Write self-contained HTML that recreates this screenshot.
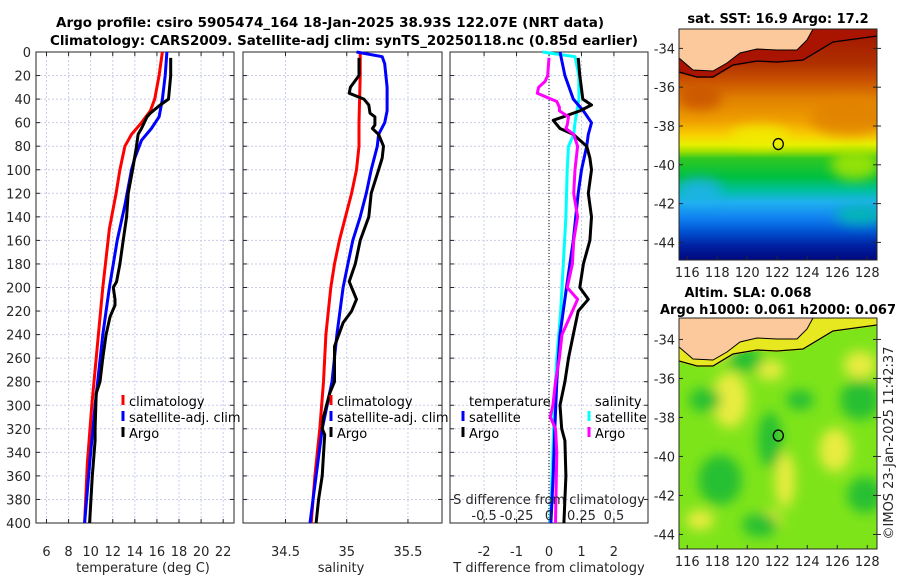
<!DOCTYPE html>
<html><head><meta charset="utf-8"><style>
html,body{margin:0;padding:0;background:#fff;}
svg{display:block;font-family:"DejaVu Sans","Liberation Sans",sans-serif;}
</style></head><body>
<svg id="fig" width="900" height="580" viewBox="0 0 900 580">
<defs>
<linearGradient id="sstGrad" x1="0" y1="0" x2="0" y2="1">
<stop offset="0" stop-color="#a01400"/><stop offset="0.15" stop-color="#b03000"/>
<stop offset="0.22" stop-color="#c85000"/><stop offset="0.30" stop-color="#e08000"/>
<stop offset="0.40" stop-color="#f0a000"/><stop offset="0.46" stop-color="#f8d000"/>
<stop offset="0.50" stop-color="#e8f000"/><stop offset="0.53" stop-color="#a0e000"/>
<stop offset="0.56" stop-color="#30c820"/><stop offset="0.64" stop-color="#00c040"/>
<stop offset="0.70" stop-color="#00c0a0"/><stop offset="0.75" stop-color="#20b0f0"/>
<stop offset="0.82" stop-color="#1080f0"/><stop offset="0.88" stop-color="#0050d0"/>
<stop offset="0.94" stop-color="#0020a0"/><stop offset="1" stop-color="#000880"/>
</linearGradient>
<filter id="blur" x="-20%" y="-20%" width="140%" height="140%"><feGaussianBlur stdDeviation="6"/></filter>
<clipPath id="clipTop"><rect x="679" y="29" width="198" height="231"/></clipPath>
<clipPath id="clipBot"><rect x="679" y="318" width="198" height="231"/></clipPath>
</defs>
<g id="root"></g>
</svg>
<script>
// ---------- data ----------
const depthTicks = [0,20,40,60,80,100,120,140,160,180,200,220,240,260,280,300,320,340,360,380,400];
const tempTicks = [6,8,10,12,14,16,18,20,22];
const salTicks = [34.5,35,35.5];
const tdiffTicks = [-2,-1,0,1,2];
const sdiffTicks = [-0.5,-0.25,0,0.25,0.5];
const sdiffTickLabels = ["-0.5","-0.25","0","0.25","0.5"];

const climTdepth = [0,20,40,50,60,70,80,100,120,150,200,250,300,350,400];
const climT = [16.5,16.2,15.8,15.4,14.6,13.7,13.1,12.65,12.3,11.7,11.1,10.6,10.1,9.7,9.45];
const satTdepth = [0,20,40,55,65,75,90,100,130,160,200,240,300,350,400];
const satT = [16.9,16.75,16.5,16.2,15.5,14.6,14.0,13.7,13.1,12.4,11.7,11.1,10.4,9.9,9.45];
const argoTdepth = [5,20,40,45,52,55,65,70,80,100,120,140,160,180,195,200,210,215,225,240,260,280,290,320,330,360,400];
const argoT = [17.25,17.25,17.05,16.3,15.4,15.1,14.6,14.3,14.15,13.8,13.4,13.25,12.95,12.65,12.35,12.05,12.2,12.2,11.75,11.4,11.1,10.85,10.5,10.4,10.4,10.15,9.9];

const climSdepth = [0,20,60,80,100,120,140,160,180,200,240,280,320,360,400];
const climS = [35.11,35.11,35.10,35.10,35.08,35.04,34.99,34.94,34.90,34.87,34.83,34.81,34.78,34.74,34.71];
const satSdepth = [0,4,10,30,50,60,70,80,100,120,140,160,180,200,240,280,300,320,360,400];
const satS = [35.08,35.29,35.31,35.33,35.33,35.31,35.26,35.25,35.20,35.16,35.11,35.05,35.01,34.97,34.92,34.88,34.84,34.80,34.75,34.70];
const argoSdepth = [5,20,30,35,40,45,52,55,62,65,70,80,90,100,120,130,140,160,180,195,200,210,220,230,250,280,290,310,320,325,360,380,400];
const argoS = [35.10,35.10,35.03,35.02,35.14,35.18,35.19,35.23,35.23,35.21,35.26,35.30,35.29,35.26,35.20,35.19,35.18,35.11,35.07,35.02,35.04,35.08,35.04,34.97,34.90,34.90,34.86,34.81,34.80,34.82,34.80,34.77,34.75];

const dTsatDepth = [0,20,40,50,60,70,80,100,120,160,200,240,280,320,360,400];
const dTsat = [0.34,0.49,0.75,1.06,1.31,1.21,1.16,1.0,0.9,0.75,0.54,0.34,0.24,0.18,0.13,0.06];
const dTargoDepth = [5,20,40,45,50,55,58,65,70,80,90,100,120,140,160,180,200,210,220,240,260,280,300,320,330,360,400];
const dTargo = [0.9,0.95,1.04,1.31,0.95,0.44,0.13,0.34,0.75,1.16,1.26,1.31,1.21,1.31,1.26,1.06,0.95,1.21,0.9,0.75,0.6,0.49,0.34,0.39,0.49,0.52,0.46];
const dSsatDepth = [0,4,20,40,60,70,80,100,140,180,220,260,300,340,400];
const dSsat = [-0.05,0.20,0.23,0.23,0.20,0.19,0.15,0.14,0.13,0.11,0.09,0.06,0.04,0.03,0.01];
const dSargoDepth = [5,20,25,30,35,42,47,50,55,62,65,70,80,100,120,140,160,180,200,210,220,240,260,280,300,310,320,340,400];
const dSargo = [0,-0.01,-0.03,-0.08,-0.09,0.06,0.08,0.08,0.15,0.14,0.13,0.19,0.22,0.20,0.19,0.22,0.19,0.18,0.14,0.22,0.18,0.10,0.08,0.05,0.03,0.01,0.05,0.06,0.05];

const lonTicks = [116,118,120,122,124,126,128];
const latTicks = [-34,-36,-38,-40,-42,-44];
const floatLon = 122.07;
const floatLat = -38.93;

// ---------- helpers ----------
const NS = "http://www.w3.org/2000/svg";
const root = document.getElementById('root');
function mk(tag, attrs, parent){
  const e = document.createElementNS(NS, tag);
  for (const k in attrs) e.setAttribute(k, attrs[k]);
  (parent||root).appendChild(e);
  return e;
}
function txt(x,y,s,opts,parent){
  const t = mk('text', Object.assign({x:x,y:y,'font-size':13,fill:'#262626'}, opts||{}), parent);
  t.textContent = s;
  return t;
}
const yTop = 52, yBot = 523;
const depthY = d => yTop + d*(yBot-yTop)/400;

const panels = [
  {x0:36,x1:234,lo:5.05,hi:22.98},
  {x0:243,x1:442,lo:34.153,hi:35.778},
  {x0:450,x1:648,lo:-3.05,hi:3.05}
];
function xScale(p){ return v => p.x0 + (v-p.lo)*(p.x1-p.x0)/(p.hi-p.lo); }
const xT = xScale(panels[0]), xS = xScale(panels[1]), xD = xScale(panels[2]);
const xSD = v => xD(v*4);

function panelFrame(p, vticks, vx, name){
  const g = mk('g', {});
  
  
  vticks.forEach(v => mk('line',{x1:vx(v),x2:vx(v),y1:yTop,y2:yBot,stroke:'#c8cce8','stroke-width':1,'stroke-dasharray':'2,2'},g));
  depthTicks.forEach(d => {
    mk('line',{x1:p.x0,x2:p.x1,y1:depthY(d),y2:depthY(d),stroke:'#c8cce8','stroke-width':1,'stroke-dasharray':'2,2'},g);
    mk('line',{x1:p.x0,x2:p.x0+4,y1:depthY(d),y2:depthY(d),stroke:'#262626'},g);
    mk('line',{x1:p.x1-4,x2:p.x1,y1:depthY(d),y2:depthY(d),stroke:'#262626'},g);
  });
  vticks.forEach(v => {
    mk('line',{x1:vx(v),x2:vx(v),y1:yBot,y2:yBot-4,stroke:'#262626'},g);
    mk('line',{x1:vx(v),x2:vx(v),y1:yTop,y2:yTop+4,stroke:'#262626'},g);
  });
  mk('rect',{x:p.x0,y:yTop,width:p.x1-p.x0,height:yBot-yTop,fill:'none',stroke:'#262626','stroke-width':1},g);
  return g;
}
function line(depths, vals, sx, color, name, w){
  const pts = depths.map((d,i)=> sx(vals[i]).toFixed(1)+','+depthY(d).toFixed(1)).join(' ');
  const e = mk('polyline',{points:pts,fill:'none',stroke:color,'stroke-width':w||3,'stroke-linejoin':'round'});
  
  
  return e;
}

const t1 = txt(330,27,'Argo profile: csiro 5905474_164 18-Jan-2025 38.93S 122.07E (NRT data)',{'font-weight':'bold','text-anchor':'middle','font-size':13,fill:'#000',textLength:548,lengthAdjust:'spacingAndGlyphs'});


const t2 = txt(344,45,'Climatology: CARS2009. Satellite-adj clim: synTS_20250118.nc (0.85d earlier)',{'font-weight':'bold','text-anchor':'middle','font-size':13,fill:'#000',textLength:588,lengthAdjust:'spacingAndGlyphs'});



panelFrame(panels[0], tempTicks, xT, 'temperature-panel');
depthTicks.forEach(d => {
  const e = txt(31, depthY(d)+5, String(d), {'text-anchor':'end'});
  
  
});
tempTicks.forEach(v => {
  const e = txt(xT(v), 556, String(v), {'text-anchor':'middle'});
  
  
});
const xl1 = txt(143, 572, 'temperature (deg C)', {'text-anchor':'middle'});


line(climTdepth, climT, xT, '#ff0000', 'climatology-temperature-line');
line(satTdepth, satT, xT, '#0000ff', 'satellite-temperature-line');
line(argoTdepth, argoT, xT, '#000000', 'argo-temperature-line');

function legend(x, y, items, name){
  const g = mk('g',{});
  
  
  items.forEach((it,i)=>{
    if (it.c) mk('line',{x1:x,x2:x,y1:y+i*16-11,y2:y+i*16-1,stroke:it.c,'stroke-width':3},g);
    txt(x+6, y+i*16, it.t, {fill:'#000'}, g);
  });
}
legend(123, 406, [{c:'#ff0000',t:'climatology'},{c:'#0000ff',t:'satellite-adj. clim'},{c:'#000',t:'Argo'}], 'temperature-legend');

panelFrame(panels[1], salTicks, xS, 'salinity-panel');
salTicks.forEach(v => {
  const e = txt(xS(v), 556, String(v), {'text-anchor':'middle'});
  
  
});
const xl2 = txt(341, 572, 'salinity', {'text-anchor':'middle'});


line(climSdepth, climS, xS, '#ff0000', 'climatology-salinity-line');
line(satSdepth, satS, xS, '#0000ff', 'satellite-salinity-line');
line(argoSdepth, argoS, xS, '#000000', 'argo-salinity-line');
legend(331, 406, [{c:'#ff0000',t:'climatology'},{c:'#0000ff',t:'satellite-adj. clim'},{c:'#000',t:'Argo'}], 'salinity-legend');

panelFrame(panels[2], tdiffTicks, xD, 'difference-panel');
const zl = mk('line',{x1:xD(0),x2:xD(0),y1:yTop,y2:yBot,stroke:'#000','stroke-width':1,'stroke-dasharray':'1,2'});


tdiffTicks.forEach(v => {
  const e = txt(xD(v), 556, String(v), {'text-anchor':'middle'});
  
  
});
const xl3 = txt(549, 572, 'T difference from climatology', {'text-anchor':'middle'});


line(dSsatDepth, dSsat, xSD, '#00ffff', 'salinity-satellite-difference-line');
line(dTsatDepth, dTsat, xD, '#0000ff', 'temperature-satellite-difference-line');
line(dTargoDepth, dTargo, xD, '#000000', 'temperature-argo-difference-line');
line(dSargoDepth, dSargo, xSD, '#ff00ff', 'salinity-argo-difference-line');
const sl = txt(549, 504, 'S difference from climatology', {'text-anchor':'middle'});


sdiffTicks.forEach((v,i) => {
  const e = txt(xSD(v), 520, sdiffTickLabels[i], {'text-anchor':'middle'});
  
  
});
legend(463, 406, [{c:null,t:'temperature'},{c:'#0000ff',t:'satellite'},{c:'#000',t:'Argo'}], 'temperature-difference-legend');
legend(589, 406, [{c:null,t:'salinity'},{c:'#00ffff',t:'satellite'},{c:'#ff00ff',t:'Argo'}], 'salinity-difference-legend');

// ---------- maps ----------
const mapX0 = 679, mapX1 = 877;
const lonX = lon => mapX0 + (lon-115.45)*15;
function drawMap(top, bottom, latTop, latPerPx, kind){
  const latY = lat => top + (latTop-lat)*latPerPx;
  const g = mk('g',{});
  
  
  const off = top - 29;
  const cg = mk('g',{'clip-path': kind==='sst' ? 'url(#clipTop)' : 'url(#clipBot)'}, g);
  if (kind==='sst'){
    mk('rect',{x:mapX0,y:top,width:mapX1-mapX0,height:bottom-top,fill:'url(#sstGrad)'},cg);
    const bl = mk('g',{filter:'url(#blur)',opacity:0.8},cg);
    mk('ellipse',{cx:850,cy:118,rx:40,ry:18,fill:'#e08000'},bl);
    mk('ellipse',{cx:700,cy:98,rx:22,ry:12,fill:'#c85000'},bl);
    mk('ellipse',{cx:760,cy:135,rx:30,ry:10,fill:'#f0f000'},bl);
    mk('ellipse',{cx:855,cy:165,rx:24,ry:15,fill:'#b0e800'},bl);
    mk('ellipse',{cx:700,cy:190,rx:22,ry:12,fill:'#20b0f0'},bl);
    mk('ellipse',{cx:860,cy:215,rx:25,ry:10,fill:'#00c0a8'},bl);
  } else {
    mk('rect',{x:mapX0,y:top,width:mapX1-mapX0,height:bottom-top,fill:'#7ee41a'},cg);
    const bl = mk('g',{filter:'url(#blur)'},cg);
    [[730,400,18,28],[770,370,14,10],[860,365,16,14],[835,450,16,22],[770,520,12,10],[700,520,14,10],[715,350,18,10],[785,480,10,28]].forEach(b=>
      mk('ellipse',{cx:b[0],cy:b[1],rx:b[2],ry:b[3],fill:'#e8ec40'},bl));
    [[745,360,18,12],[705,400,16,12],[720,480,22,25],[770,440,12,28],[860,400,20,20],[865,495,18,18],[800,400,14,10],[760,525,18,12]].forEach(b=>
      mk('ellipse',{cx:b[0],cy:b[1],rx:b[2],ry:b[3],fill:'#28c030'},bl));
  }
  const stripFill = kind==='sst' ? '#a81400' : '#e8e820';
  mk('polygon',{points:[[679,29],[679,73],[697,78],[713,78],[733,66],[757,62],[777,63],[803,61],[833,43],[877,37],[877,29]].map(p=>p[0]+','+(p[1]+off)).join(' '),fill:stripFill},cg);
  const land = mk('polygon',{points:[[679,29],[679,58],[693,70],[713,71],[727,63],[740,53],[757,49],[777,50],[797,50],[807,40],[813,29]].map(p=>p[0]+','+(p[1]+off)).join(' '),fill:'#fbc99c',stroke:'#000','stroke-width':1});
  cg.appendChild(land);
  
  
  mk('polyline',{points:[[679,72],[697,77],[713,77],[733,65],[757,61],[777,62],[803,60],[833,42],[877,36]].map(p=>p[0]+','+(p[1]+off)).join(' '),fill:'none',stroke:'#000','stroke-width':1.3},cg);
  const fm = mk('ellipse',{cx:lonX(floatLon),cy:latY(floatLat),rx:5,ry:5.5,fill:'none',stroke:'#000','stroke-width':1.3},g);
  
  
  mk('rect',{x:mapX0,y:top,width:mapX1-mapX0,height:bottom-top,fill:'none',stroke:'#262626'},g);
  lonTicks.forEach(l=>{
    mk('line',{x1:lonX(l),x2:lonX(l),y1:bottom,y2:bottom-4,stroke:'#262626'},g);
    const e = txt(lonX(l), bottom+17, String(l), {'text-anchor':'middle'}, g);
    
    
  });
  latTicks.forEach(l=>{
    mk('line',{x1:mapX0,x2:mapX0+4,y1:latY(l),y2:latY(l),stroke:'#262626'},g);
    mk('line',{x1:mapX1-4,x2:mapX1,y1:latY(l),y2:latY(l),stroke:'#262626'},g);
    mk('line',{x1:mapX1,x2:mapX1+4,y1:latY(l),y2:latY(l),stroke:'#262626'},g);
    const e = txt(mapX0-4, latY(l)+5, String(l), {'text-anchor':'end'}, g);
    
    
  });
}
drawMap(29, 260, -33.0, 19.4, 'sst');
drawMap(318, 549, -32.9, 19.5, 'sla');

const mt1 = txt(778, 23, 'sat. SST: 16.9 Argo: 17.2', {'text-anchor':'middle','font-weight':'bold',fill:'#000'});


const mt2 = txt(748, 297, 'Altim. SLA: 0.068', {'text-anchor':'middle','font-weight':'bold',fill:'#000'});


const mt3 = txt(778, 314, 'Argo h1000: 0.061 h2000: 0.067', {'text-anchor':'middle','font-weight':'bold',fill:'#000',textLength:236,lengthAdjust:'spacingAndGlyphs'});


const cp = txt(0, 0, '\u00a9IMOS 23-Jan-2025 11:42:37', {'text-anchor':'middle',transform:'translate(893,443) rotate(-90)'});


</script>
</body></html>
